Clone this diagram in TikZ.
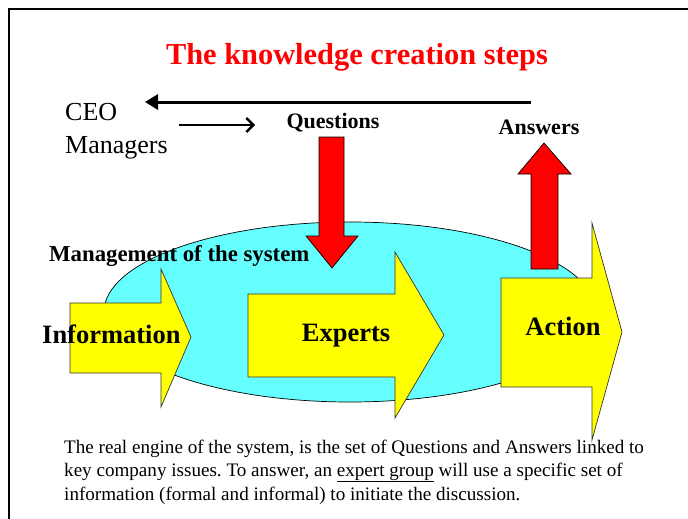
\documentclass[tikz,border=0pt]{standalone}
\usepackage{fontspec}
\setmainfont{Liberation Serif}
\usetikzlibrary{arrows.meta}
\frenchspacing
\definecolor{ellcyan}{HTML}{66FFFF}
\definecolor{blkyellow}{HTML}{FFFF00}
\definecolor{blkred}{HTML}{FF0000}
\tikzset{
  yarrow/.style={fill=blkyellow, draw=black!80, line width=0.7pt, line join=miter},
  rarrow/.style={fill=blkred, draw=black, line width=0.7pt, line join=miter},
  boldlab/.style={font=\bfseries\fontsize{26.5}{30}\selectfont, inner sep=0pt, anchor=base},
  smalllab/.style={font=\bfseries\fontsize{22}{26}\selectfont, inner sep=0pt, anchor=base},
  bodyline/.style={font=\fontsize{19.1}{23}\selectfont, inner sep=0pt, anchor=base west},
}
\begin{document}
\begin{tikzpicture}[x=1pt,y=-1pt]
\useasboundingbox (0,0) rectangle (688,519);
% frame
\draw[line width=2.5pt] (9,520) -- (9,9) -- (689,9);
% title
\node[font=\bfseries\fontsize{30.4}{36}\selectfont, text=blkred, inner sep=0pt, anchor=base] (title) at (357,65) {The knowledge creation steps};
% CEO / Managers
\node[font=\fontsize{26}{30}\selectfont, inner sep=0pt, anchor=base west] (ceo) at (65,120) {CEO};
\node[font=\fontsize{26}{30}\selectfont, inner sep=0pt, anchor=base west] (mgr) at (65,153) {Managers};
% black arrows
\coordinate (longS) at (531,102);
\coordinate (longE) at (145,102);
\draw[line width=3pt, -{Triangle[length=13pt,width=15pt]}] (longS) -- (longE);
\coordinate (shortS) at (179,125);
\coordinate (shortE) at (255,125);
\draw[line width=2.4pt, -{Straight Barb[length=7pt,width=14pt]}] (shortS) -- (shortE);
% labels
\node[smalllab] (q) at (333,128) {Questions};
\node[smalllab] (a) at (539,134) {Answers};
% ellipse
\draw[fill=ellcyan, draw=black, line width=0.7pt] (350,312) ellipse [x radius=246pt, y radius=90pt];
% red arrows
\draw[rarrow] (319,137) -- (344,137) -- (344,236) -- (358,236) -- (332,268) -- (306,236) -- (319,236) -- cycle;
\draw[rarrow] (531,269) -- (558,269) -- (558,174) -- (571,174) -- (544,143) -- (518,174) -- (531,174) -- cycle;
% yellow block arrows
\draw[yarrow] (70,303) -- (161,303) -- (161,269) -- (191,337) -- (161,407) -- (161,373) -- (70,373) -- cycle;
\draw[yarrow] (248,294) -- (395,294) -- (395,252) -- (444,335) -- (395,418) -- (395,377) -- (248,377) -- cycle;
\draw[yarrow] (501,278) -- (592,278) -- (592,223) -- (622,332) -- (592,440) -- (592,387) -- (501,387) -- cycle;
% texts on shapes
\node[font=\bfseries\fontsize{22.8}{26}\selectfont, inner sep=0pt, anchor=base west] (mos) at (49,261) {Management of the system};
\node[boldlab, anchor=base west] (info) at (42,343) {Information};
\node[boldlab] (exp) at (346,341) {Experts};
\node[boldlab] (act) at (563,335) {Action};
% bottom text
\node[bodyline] (l1) at (64,453) {The real engine of the system, is the set of Questions and Answers linked to};
\node[bodyline] (l2) at (64,476) {key company issues. To answer, an \underline{expert group} will use a specific set of};
\node[bodyline] (l3) at (64,500) {information (formal and informal) to initiate the discussion.};
\end{tikzpicture}
\end{document}
